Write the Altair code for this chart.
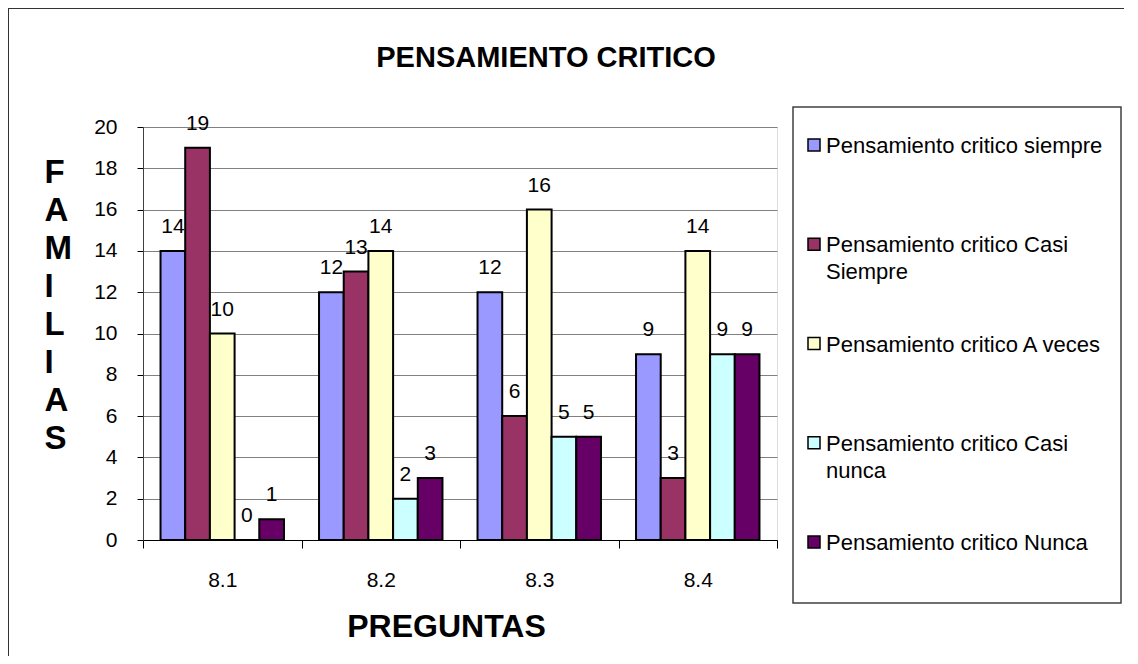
import altair as alt
import pandas as pd

# ---------------- data ----------------
preguntas = ["8.1", "8.2", "8.3", "8.4"]
series = [
    "Pensamiento critico siempre",
    "Pensamiento critico Casi Siempre",
    "Pensamiento critico A veces",
    "Pensamiento critico Casi nunca",
    "Pensamiento critico Nunca",
]
legend_labels = [
    "Pensamiento critico siempre",
    "Pensamiento critico Casi\nSiempre",
    "Pensamiento critico A veces",
    "Pensamiento critico Casi\nnunca",
    "Pensamiento critico Nunca",
]
siempre = [14, 12, 12, 9]
casi_siempre = [19, 13, 6, 3]
a_veces = [10, 14, 16, 14]
casi_nunca = [0, 2, 5, 9]
nunca = [1, 3, 5, 9]
y_ticks = [0, 2, 4, 6, 8, 10, 12, 14, 16, 18, 20]
colors = ["#9999FF", "#993366", "#FFFFCC", "#CCFFFF", "#660066"]

values_by_series = [siempre, casi_siempre, a_veces, casi_nunca, nunca]
rows = []
for s, vals in zip(series, values_by_series):
    for p, v in zip(preguntas, vals):
        rows.append({"pregunta": p, "serie": s, "valor": v})
df = pd.DataFrame(rows)
legend_df = pd.DataFrame({"serie": series, "label": legend_labels})
one = pd.DataFrame({"k": [0]})

FONT = "Liberation Sans"

color_scale = alt.Scale(domain=series, range=colors)

x_enc = alt.X(
    "pregunta:N",
    sort=preguntas,
    scale=alt.Scale(domain=preguntas, paddingInner=0, paddingOuter=0),
    axis=alt.Axis(
        title="PREGUNTAS",
        labelAngle=0,
        tickBand="extent",
        labelFontSize=21,
        labelFont=FONT,
        labelColor="black",
        labelBaseline="alphabetic",
        labelPadding=38,
        tickSize=8,
        tickColor="black",
        domainColor="black",
        domainWidth=1,
        titleFont=FONT,
        titleFontSize=32,
        titleFontWeight="bold",
        titleColor="black",
        titleX=303,
        titleY=96,
        titleAlign="center",
        titleBaseline="alphabetic",
        grid=False,
    ),
)
xo_enc = alt.XOffset(
    "serie:N",
    sort=series,
    scale=alt.Scale(domain=series, paddingInner=0, paddingOuter=0.71),
)
y_enc = alt.Y(
    "valor:Q",
    scale=alt.Scale(domain=[0, 20], nice=False),
    axis=alt.Axis(
        values=y_ticks,
        title=list("FAMILIAS"),
        titleAngle=0,
        titleAlign="left",
        titleBaseline="alphabetic",
        titleX=-99,
        titleY=55,
        titleLineHeight=38,
        titleFont=FONT,
        titleFontSize=33,
        titleFontWeight="bold",
        titleColor="black",
        labelFont=FONT,
        labelFontSize=21,
        labelColor="black",
        labelPadding=20,
        tickSize=6,
        tickColor="black",
        domainColor="#404040",
        grid=True,
        gridColor="#808080",
        gridWidth=1,
    ),
)

bars = alt.Chart(df).mark_bar(stroke="black", strokeWidth=2).encode(
    x=x_enc,
    xOffset=xo_enc,
    y=y_enc,
    color=alt.Color("serie:N", scale=color_scale, legend=None),
)
labels = alt.Chart(df).mark_text(
    dy=-18, baseline="alphabetic", fontSize=21, font=FONT, color="black"
).encode(
    x=alt.X("pregunta:N", sort=preguntas),
    xOffset=alt.XOffset("serie:N", sort=series),
    y=alt.Y("valor:Q"),
    text=alt.Text("valor:Q"),
)
main = alt.layer(bars, labels)

leg_y = alt.Y(
    "serie:N",
    sort=series,
    scale=alt.Scale(type="point", domain=series, range=[18, 415], padding=0),
    axis=None,
)
frame = alt.Chart(one).mark_rect(fill="white", stroke="#404040", strokeWidth=1.5).encode(
    x=alt.value(650), x2=alt.value(978), y=alt.value(-20), y2=alt.value(476)
)
squares = alt.Chart(legend_df).mark_square(
    size=144, filled=True, stroke="black", strokeWidth=1.5, opacity=1
).encode(
    x=alt.value(671),
    y=leg_y,
    color=alt.Color("serie:N", scale=color_scale, legend=None),
)
leg_text = alt.Chart(legend_df).mark_text(
    align="left", baseline="alphabetic", dy=8, fontSize=22, font=FONT,
    lineBreak="\n", lineHeight=27, color="black"
).encode(
    x=alt.value(683),
    y=leg_y,
    text=alt.Text("label:N"),
)
legend = alt.layer(frame, squares, leg_text)

border_left = alt.Chart(one).mark_rule(color="#333333", strokeWidth=1).encode(
    x=alt.value(-134.5), y=alt.value(-119), y2=alt.value(700)
)
border_top = alt.Chart(one).mark_rule(color="#333333", strokeWidth=1).encode(
    x=alt.value(-135), x2=alt.value(1100), y=alt.value(-118.5)
)
title = alt.Chart(one).mark_text(
    fontSize=29, font=FONT, fontWeight="bold", color="black",
    align="center", baseline="alphabetic"
).encode(
    x=alt.value(403), y=alt.value(-60), text=alt.value("PENSAMIENTO CRITICO")
)

chart = alt.layer(border_left, border_top, main, legend, title).resolve_scale(
    y="independent"
).properties(
    width=634,
    height=413,
    autosize=alt.AutoSizeParams(type="none"),
    padding={"left": 135, "top": 119, "right": 347, "bottom": 116},
    background="white",
).configure_view(
    fill="#C0C0C0", stroke="#808080", strokeWidth=1
).configure(
    font=FONT
)

chart.save("out.html", embed_options={"renderer": "svg", "actions": False})
